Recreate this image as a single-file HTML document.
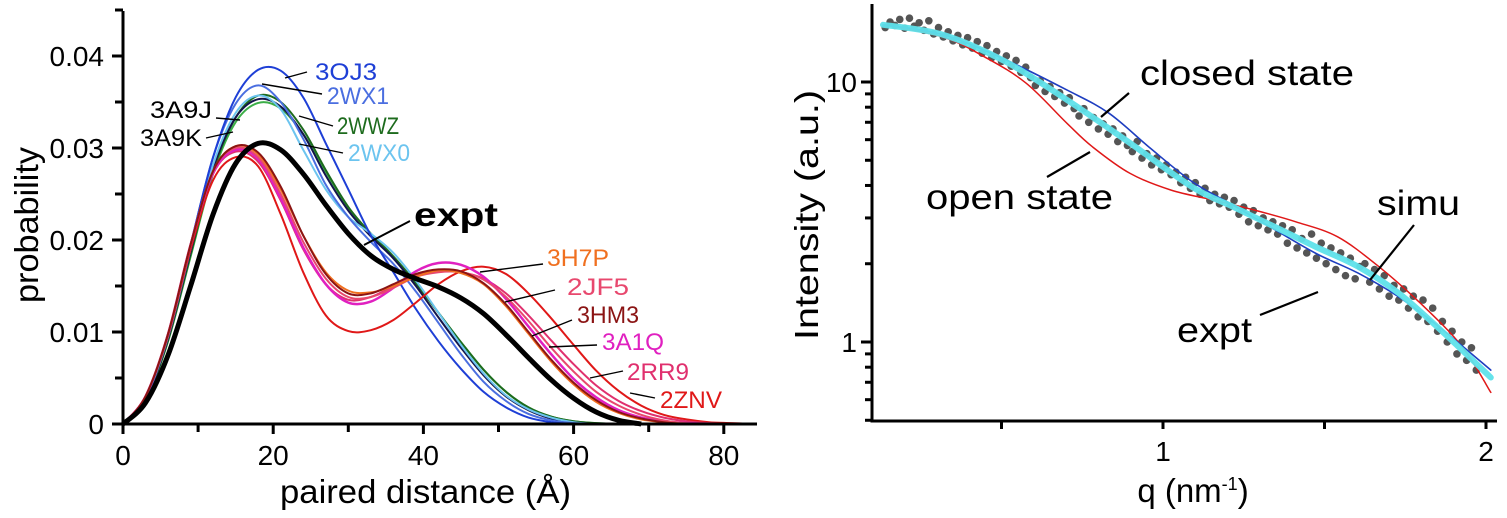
<!DOCTYPE html>
<html><head><meta charset="utf-8">
<style>
html,body{margin:0;padding:0;background:#fff;}
svg{display:block;font-family:"Liberation Sans",sans-serif;}
</style></head>
<body>
<svg id="fig" width="1507" height="518" viewBox="0 0 1507 518" xmlns="http://www.w3.org/2000/svg">
<g id="left"></g>
<g id="right"></g>
</svg>
<script>
// ---------- LEFT CHART DATA ----------
const pdGrid = [0,3,6,9,12,15,18,21,24,27,30,33,36,39,42,45,48,51,54,57,60,63,66,69,72,75,78,81,84];
const pdXTicks = [0,20,40,60,80];
const pdYTicks = [0,0.01,0.02,0.03,0.04];
const pdYTickLabels = ["0","0.01","0.02","0.03","0.04"];
const s3OJ3 = [0,.0028,.0098,.0195,.029,.0355,.0385,.0384,.0355,.0305,.0255,.0205,.0165,.0125,.009,.006,.0035,.0018,.0007,.0002,0];
const s2WX1 = [0,.0028,.0098,.0195,.029,.0348,.0368,.035,.031,.026,.0225,.0198,.0174,.0144,.011,.0076,.0046,.0025,.0011,.0004,.0001,0];
const s2WX0 = [0,.0028,.0095,.019,.0282,.0338,.0357,.0342,.0298,.0255,.0225,.0207,.0186,.0156,.0121,.0086,.0055,.0031,.0016,.0007,.0002,0];
const s3A9J = [0,.0027,.0093,.0187,.0278,.0333,.0353,.0345,.0315,.027,.0232,.0204,.018,.015,.0116,.0083,.0053,.003,.0015,.0006,.0002,0];
const s3A9K = [0,.0026,.009,.0182,.0272,.0328,.0349,.0343,.0315,.0274,.0235,.0207,.0182,.0153,.0121,.0089,.0059,.0035,.0018,.0008,.0003,.0001,0];
const s2WWZ = [0,.0026,.0091,.0184,.0275,.0333,.0357,.035,.032,.0276,.0236,.0207,.0182,.0153,.0121,.0089,.0059,.0035,.0018,.0008,.0003,.0001,0];
const s3H7P = [0,.003,.0098,.0195,.0275,.0302,.0293,.0255,.0205,.0165,.0145,.0143,.015,.016,.0167,.0164,.0152,.0128,.0098,.0068,.0043,.0024,.0012,.0005,.0002,0];
const s3HM3 = [0,.003,.0098,.0195,.0275,.0302,.0295,.0258,.0205,.0163,.0142,.0142,.0152,.0163,.0168,.0166,.0153,.013,.01,.007,.0045,.0026,.0013,.0006,.0002,0];
const s2JF5 = [0,.003,.0098,.0195,.0275,.03,.029,.025,.0198,.0158,.0138,.0138,.0148,.016,.0165,.0165,.0157,.0138,.0112,.0083,.0057,.0035,.002,.001,.0004,.0001,0];
const s3A1Q = [0,.003,.0098,.0195,.0273,.0298,.0288,.0245,.0192,.0152,.0132,.0133,.0148,.0166,.0175,.0173,.016,.0136,.0106,.0076,.0049,.0029,.0015,.0007,.0003,.0001,0];
const s2RR9 = [0,.003,.0098,.0195,.0272,.0296,.0285,.0243,.019,.0152,.0135,.0138,.015,.0162,.0166,.0165,.0158,.0142,.0118,.0091,.0065,.0042,.0025,.0014,.0007,.0003,.0001,0];
const s2ZNV = [0,.003,.0096,.019,.0265,.029,.028,.0228,.0165,.0118,.0101,.0102,.0113,.0132,.0152,.0166,.0171,.0163,.0142,.0115,.0086,.0058,.0036,.002,.001,.0005,.0002,.0001,0];
const sExpt = [0,.0023,.0075,.015,.0228,.0283,.0305,.0298,.0272,.0238,.0207,.0183,.0168,.0158,.0149,.0137,.012,.0097,.0072,.0048,.0028,.0013,.0004,0];

// ---------- RIGHT CHART DATA ----------
const qTicks = [0.5,1,1.5,2];
const qTickLabels = ["","1","","2"];
const iMajor = [1,10];
const iMinor = [0.5,0.6,0.7,0.8,0.9,2,3,4,5,6,7,8,9];
const closedQ = [0.133,0.319,0.511,0.703,0.833,0.961,1.09,1.217,1.347,1.474,1.604,1.73,1.86,2.015];
const closedI = [16.6,15.2,12.2,9.31,7.58,5.56,4.14,3.36,2.70,2.19,1.84,1.49,1.13,0.78];
const openQ = [0.133,0.319,0.447,0.576,0.703,0.781,0.898,1.025,1.154,1.282,1.411,1.54,1.668,1.797,1.926,2.015];
const openI = [16.6,14.9,12.5,9.9,6.93,5.64,4.45,3.84,3.52,3.22,2.90,2.54,1.95,1.41,0.96,0.64];
const simuQ = [0.133,0.319,0.511,0.703,0.898,1.09,1.217,1.347,1.474,1.604,1.73,1.86,2.015];
const simuI = [16.6,15.2,12.0,8.53,5.82,3.95,3.31,2.77,2.32,1.95,1.54,1.11,0.73];
const exptQ = [
0.14,0.155,0.17,0.185,0.2,0.215,0.23,0.245,0.26,0.275,
0.29,0.305,0.32,0.335,0.35,0.365,0.38,0.395,0.41,0.425,
0.44,0.455,0.47,0.485,0.5,0.515,0.53,0.545,0.56,0.575,
0.59,0.605,0.62,0.635,0.65,0.665,0.68,0.695,0.71,0.725,
0.74,0.755,0.77,0.785,0.8,0.815,0.83,0.845,0.86,0.875,
0.89,0.905,0.92,0.935,0.95,0.965,0.98,0.995,1.01,1.025,
1.04,1.055,1.07,1.085,1.1,1.115,1.13,1.145,1.16,1.175,
1.19,1.205,1.22,1.235,1.25,1.265,1.28,1.295,1.31,1.325,
1.34,1.355,1.37,1.385,1.4,1.415,1.43,1.445,1.46,1.475,
1.49,1.505,1.52,1.535,1.55,1.565,1.58,1.595,1.61,1.625,
1.64,1.655,1.67,1.685,1.7,1.715,1.73,1.745,1.76,1.775,
1.79,1.805,1.82,1.835,1.85,1.865,1.88,1.895,1.91,1.925,
1.94,1.955,1.97];
const exptI = [
16.2,17.0,16.5,17.4,16.1,17.6,16.4,16.9,15.8,17.2,
15.3,16.2,14.9,15.6,14.4,15.1,13.9,14.8,13.5,14.3,
12.9,13.8,12.4,13.1,12.0,12.6,11.5,12.1,10.9,11.4,
10.4,9.7,10.1,9.2,9.6,8.8,9.1,8.3,8.7,7.9,
7.4,7.9,7.0,7.3,6.6,6.9,6.3,6.6,5.9,6.2,
5.7,5.4,5.9,5.1,5.3,4.8,5.1,4.6,4.8,4.4,
4.5,4.1,4.3,3.9,4.1,3.7,3.9,3.5,3.7,3.4,
3.6,3.3,3.5,3.1,3.3,2.9,3.2,2.8,3.0,2.7,
2.9,2.6,2.8,2.4,2.7,2.3,2.5,2.2,2.6,2.1,
2.4,2.0,2.3,1.9,2.2,1.8,2.1,1.75,1.95,2.0,
1.7,1.9,1.6,1.8,1.5,1.65,1.45,1.6,1.35,1.5,
1.25,1.45,1.2,1.35,1.1,1.2,1.0,1.1,0.9,1.0,
0.85,0.95,0.78];

const NS = "http://www.w3.org/2000/svg";
function mk(parent, tag, attrs, text){
  const e = document.createElementNS(NS, tag);
  for (const k in attrs) e.setAttribute(k, attrs[k]);
  if (text !== undefined) e.textContent = text;
  parent.appendChild(e);
  return e;
}
function smoothPath(pts){
  let d = "M" + pts[0][0].toFixed(1) + "," + pts[0][1].toFixed(1);
  for (let i = 0; i < pts.length - 1; i++){
    const p0 = pts[Math.max(0,i-1)], p1 = pts[i], p2 = pts[i+1], p3 = pts[Math.min(pts.length-1,i+2)];
    const c1x = p1[0] + (p2[0]-p0[0])/6, c1y = p1[1] + (p2[1]-p0[1])/6;
    const c2x = p2[0] - (p3[0]-p1[0])/6, c2y = p2[1] - (p3[1]-p1[1])/6;
    d += " C" + c1x.toFixed(1)+","+c1y.toFixed(1)+" "+c2x.toFixed(1)+","+c2y.toFixed(1)+" "+p2[0].toFixed(1)+","+p2[1].toFixed(1);
  }
  return d;
}

// ---------- LEFT CHART ----------
const L = document.getElementById('left');
const lx = v => 123 + v * 7.51;
const ly = v => 424 - v * 9200;

const lcurves = [
  ["curve-3a9k", s3A9K, "#3cae48", 2],
  ["curve-2wwz", s2WWZ, "#1d6b1d", 2],
  ["curve-3a9j", s3A9J, "#14144a", 2],
  ["curve-2wx0", s2WX0, "#6cc4ef", 2],
  ["curve-2wx1", s2WX1, "#4a6ee0", 2],
  ["curve-3oj3", s3OJ3, "#1e3fd6", 2],
  ["curve-2znv", s2ZNV, "#e01818", 2],
  ["curve-2rr9", s2RR9, "#e0306e", 2],
  ["curve-3a1q", s3A1Q, "#e020c0", 2.5],
  ["curve-2jf5", s2JF5, "#e8486e", 2],
  ["curve-3h7p", s3H7P, "#f07020", 2],
  ["curve-3hm3", s3HM3, "#8b1414", 2],
  ["curve-expt", sExpt, "#000000", 5]
];
for (const c of lcurves){
  const pts = c[1].map((v,i) => [lx(pdGrid[i]), ly(v)]);
  const p = mk(L, "path", {d: smoothPath(pts), fill:"none", stroke:c[2], "stroke-width":c[3], "stroke-linejoin":"round"});
  
  
}
const lax = mk(L, "line", {x1:123, y1:424, x2:757, y2:424, stroke:"#000", "stroke-width":3});


const lay = mk(L, "line", {x1:123, y1:11, x2:123, y2:425.5, stroke:"#000", "stroke-width":3});


for (let v = 0; v <= 80; v += 10){
  const t = mk(L, "line", {x1:lx(v), y1:424, x2:lx(v), y2:v%20===0?434:432, stroke:"#000", "stroke-width":3});
  
  
}
pdXTicks.forEach(v => {
  const t = mk(L, "text", {x:lx(v), y:465, "font-size":28, "text-anchor":"middle"}, String(v));
  
  
});
for (let k = 0; k <= 9; k++){
  const v = k*0.005;
  const t = mk(L, "line", {x1:k%2===0?112:115, y1:ly(v), x2:123, y2:ly(v), stroke:"#000", "stroke-width":3});
  
  
}
pdYTicks.forEach((v,i) => {
  const t = mk(L, "text", {x:104, y:ly(v)+10, "font-size":28, "text-anchor":"end"}, pdYTickLabels[i]);
  
  
});
const lxt = mk(L, "text", {x:280, y:503, "font-size":33, textLength:291, lengthAdjust:"spacingAndGlyphs"}, "paired distance (Å)");


const lyt = mk(L, "text", {x:0, y:0, "font-size":33, "text-anchor":"middle", textLength:156, lengthAdjust:"spacingAndGlyphs", transform:"translate(38,225) rotate(-90)"}, "probability");



const llabels = [
  ["label-3oj3","3OJ3",315,80,"#1e3fd6",285,78,307,72],
  ["label-2wx1","2WX1",327,104,"#4a6ee0",262,84,322,94],
  ["label-2wwz","2WWZ",337,134,"#1d6b1d",299,116,333,126],
  ["label-2wx0","2WX0",348,161,"#6cc4ef",299,144,343,153],
  ["label-3a9j","3A9J",150,118,"#000",216,118,240,120],
  ["label-3a9k","3A9K",140,146,"#000",206,138,233,132],
  ["label-3h7p","3H7P",547,266,"#f07020",480,272,543,264],
  ["label-2jf5","2JF5",567,295,"#e8486e",505,302,555,290],
  ["label-3hm3","3HM3",577,323,"#8b1414",532,336,572,320],
  ["label-3a1q","3A1Q",602,350,"#e020c0",549,347,597,345],
  ["label-2rr9","2RR9",627,380,"#e0306e",590,378,623,371],
  ["label-2znv","2ZNV",660,408,"#e01818",630,393,655,398]
];
for (const l of llabels){
  const ln = mk(L, "line", {x1:l[5], y1:l[6], x2:l[7], y2:l[8], stroke:"#000", "stroke-width":1.4});
  
  
  const t = mk(L, "text", {x:l[2], y:l[3], "font-size":24, fill:l[4], textLength:62, lengthAdjust:"spacingAndGlyphs"}, l[1]);
  
  
}
const el1 = mk(L, "line", {x1:364, y1:245, x2:410, y2:221, stroke:"#000", "stroke-width":2});


const et = mk(L, "text", {x:414, y:226, "font-size":33, "font-weight":"bold", textLength:84, lengthAdjust:"spacingAndGlyphs"}, "expt");



// ---------- RIGHT CHART ----------
const R = document.getElementById('right');
const rx = q => 1163 + (q - 1) * 323;
const ry = v => 342 - Math.log10(v) * 260;

exptQ.forEach((q,i) => {
  const c = mk(R, "circle", {cx:rx(q), cy:ry(exptI[i]), r:3.8, fill:"#555"});
  
  
});
const rseries = [
  ["open-state-curve", openQ, openI, "#e01818", 1.5, 1],
  ["closed-state-curve", closedQ, closedI, "#1e3ec0", 1.6, 1],
  ["simu-curve", simuQ, simuI, "#5ee2ea", 6, 0.95]
];
for (const s of rseries){
  const pts = s[1].map((q,i) => [rx(q), ry(s[2][i])]);
  const p = mk(R, "path", {d: smoothPath(pts), fill:"none", stroke:s[3], "stroke-width":s[4], "stroke-opacity":s[5], "stroke-linecap":"round"});
  
  
}
const rax = mk(R, "line", {x1:872, y1:421, x2:1497, y2:421, stroke:"#000", "stroke-width":3});


const ray = mk(R, "line", {x1:872, y1:4, x2:872, y2:422.5, stroke:"#000", "stroke-width":3});


qTicks.forEach((q,i) => {
  const t = mk(R, "line", {x1:rx(q), y1:421, x2:rx(q), y2:429, stroke:"#000", "stroke-width":3});
  
  
  if (qTickLabels[i]){
    const tl = mk(R, "text", {x:rx(q), y:461, "font-size":28, "text-anchor":"middle"}, qTickLabels[i]);
    
    
  }
});
iMajor.forEach(v => {
  const t = mk(R, "line", {x1:861, y1:ry(v), x2:872, y2:ry(v), stroke:"#000", "stroke-width":3});
  
  
  const tl = mk(R, "text", {x:857, y:ry(v)+10, "font-size":28, "text-anchor":"end"}, String(v));
  
  
});
iMinor.forEach(v => {
  const t = mk(R, "line", {x1:865, y1:ry(v), x2:872, y2:ry(v), stroke:"#000", "stroke-width":3});
  
  
});
const rxt = mk(R, "text", {x:1193, y:502, "font-size":33, "text-anchor":"middle"});


rxt.innerHTML = 'q (nm<tspan dy="-12" font-size="18">-1</tspan><tspan dy="12">)</tspan>';
const ryt = mk(R, "text", {x:0, y:0, "font-size":33, "text-anchor":"middle", textLength:250, lengthAdjust:"spacingAndGlyphs", transform:"translate(818,215) rotate(-90)"}, "Intensity (a.u.)");



const rlabels = [
  ["label-closed-state","closed state",1140,85,214,1101,117,1129,93],
  ["label-open-state","open state",926,209,187,1047,177,1090,152],
  ["label-simu","simu",1377,215,83,1414,225,1370,280],
  ["label-expt","expt",1177,342,75,1318,292,1260,315]
];
for (const l of rlabels){
  const ln = mk(R, "line", {x1:l[5], y1:l[6], x2:l[7], y2:l[8], stroke:"#000", "stroke-width":2.2});
  
  
  const t = mk(R, "text", {x:l[2], y:l[3], "font-size":35, textLength:l[4], lengthAdjust:"spacingAndGlyphs"}, l[1]);
  
  
}
</script>
</body></html>
